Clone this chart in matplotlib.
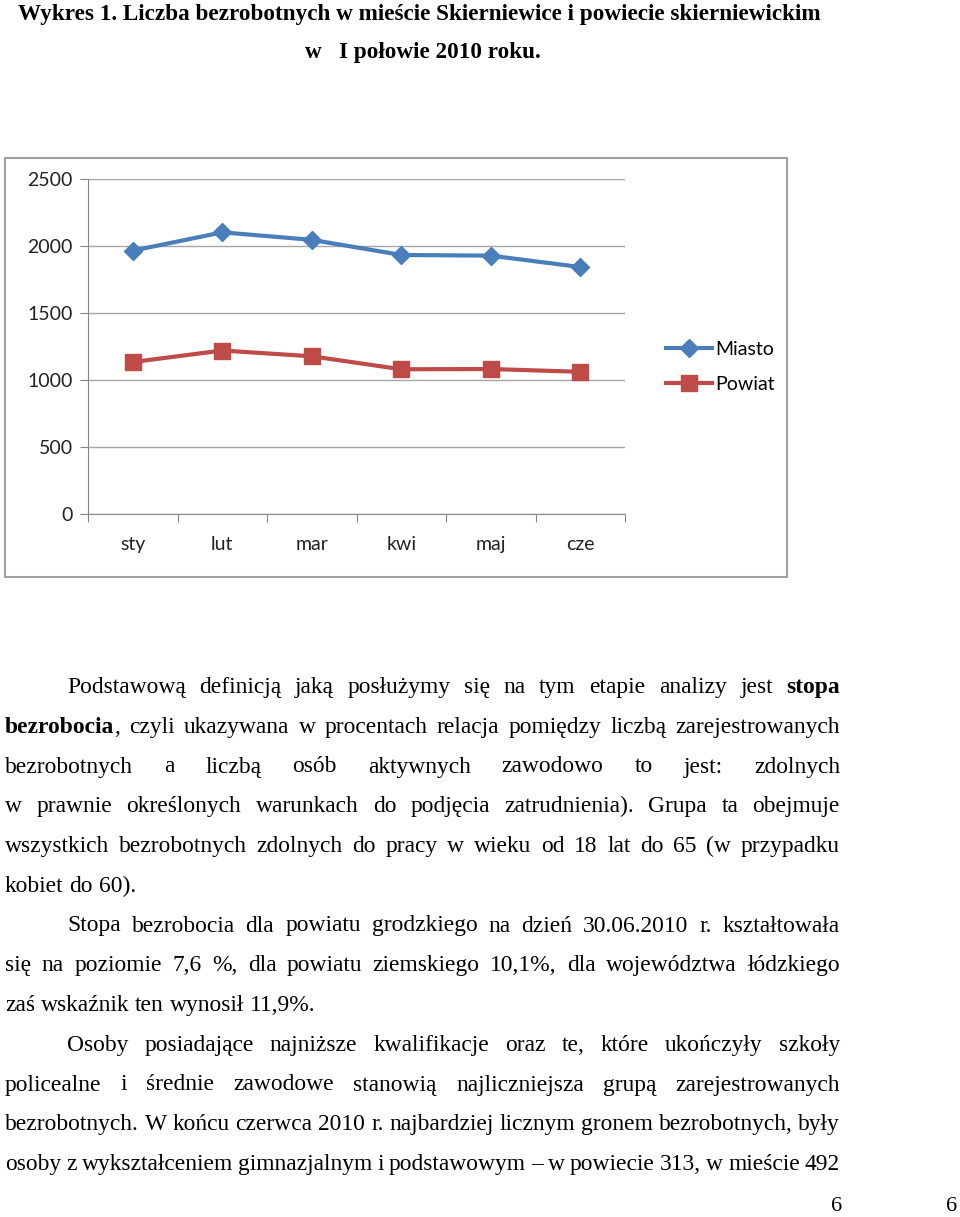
import re
import matplotlib
matplotlib.use('Agg')
import matplotlib.pyplot as plt
from matplotlib.patches import Rectangle

months = ['sty', 'lut', 'mar', 'kwi', 'maj', 'cze']
miasto = [1965, 2102, 2046, 1933, 1928, 1843]
powiat = [1134, 1220, 1177, 1080, 1082, 1061]
y_ticks = [0, 500, 1000, 1500, 2000, 2500]

title1 = 'Wykres 1. Liczba bezrobotnych w mieście Skierniewice i powiecie skierniewickim'
title2 = 'w   I połowie 2010 roku.'

# *...* = bold
lines = [
    'Podstawową definicją jaką posłużymy się na tym etapie analizy jest *stopa*',
    '*bezrobocia*, czyli ukazywana w procentach relacja pomiędzy liczbą zarejestrowanych',
    'bezrobotnych a liczbą osób aktywnych zawodowo to jest: zdolnych',
    'w prawnie określonych warunkach do podjęcia zatrudnienia). Grupa ta obejmuje',
    'wszystkich bezrobotnych zdolnych do pracy w wieku od 18 lat do 65 (w przypadku',
    'kobiet do 60).',
    'Stopa bezrobocia dla powiatu grodzkiego na dzień 30.06.2010 r. kształtowała',
    'się na poziomie 7,6 %, dla powiatu ziemskiego 10,1%, dla województwa łódzkiego',
    'zaś wskaźnik ten wynosił 11,9%.',
    'Osoby posiadające najniższe kwalifikacje oraz te, które ukończyły szkoły',
    'policealne i średnie zawodowe stanowią najliczniejsza grupą zarejestrowanych',
    'bezrobotnych. W końcu czerwca 2010 r. najbardziej licznym gronem bezrobotnych, były',
    'osoby z wykształceniem gimnazjalnym i podstawowym – w powiecie 313, w mieście 492',
]
indented = {0, 6, 9}
not_justified = {5, 8}

W, H = 960, 1217
fig = plt.figure(figsize=(W / 100, H / 100), dpi=100)
renderer = fig.canvas.get_renderer()


def fx(x):
    return x / W


def fy(y):
    return 1 - y / H


def width_of(s, size, weight='normal'):
    t = fig.text(0, 0, s, fontsize=size, family='Liberation Serif', weight=weight)
    w = t.get_window_extent(renderer).width
    t.remove()
    return w


# ---- chart ----
fig.patches.append(Rectangle((fx(5), fy(577)), fx(787) - fx(5), fy(158) - fy(577),
                             transform=fig.transFigure, fill=False,
                             edgecolor='#a0a0a0', linewidth=1.5))

ax = fig.add_axes([fx(88), fy(514), (625 - 88) / W, (514 - 179) / H])
xs = list(range(len(months)))
ax.plot(xs, miasto, color='#4a7ebb', lw=3, marker='D', ms=9, label='Miasto')
ax.plot(xs, powiat, color='#be4b48', lw=3, marker='s', ms=11, label='Powiat')
ax.set_xlim(-0.5, len(months) - 0.5)
ax.set_ylim(0, 2500)
ax.set_yticks(y_ticks)
ax.yaxis.grid(True, color='#a6a6a6', lw=1)
ax.set_axisbelow(True)
ax.set_xticks([i - 0.5 for i in range(len(months) + 1)])
ax.set_xticklabels([])
ax.set_xticks(xs, minor=True)
ax.set_xticklabels(months, minor=True)
ax.tick_params(axis='x', which='major', length=6, color='#868686')
ax.tick_params(axis='x', which='minor', length=0, pad=16)
ax.tick_params(axis='y', length=6, color='#868686', pad=5)
for lab in ax.get_xticklabels(minor=True) + ax.get_yticklabels():
    lab.set_family('Lato')
    lab.set_fontsize(14)
    lab.set_color('#222222')
for s in ['top', 'right']:
    ax.spines[s].set_visible(False)
for s in ['left', 'bottom']:
    ax.spines[s].set_color('#868686')

fig.legend(loc='center left', bbox_to_anchor=(fx(648), fy(367)), frameon=False,
           prop={'family': 'Lato', 'size': 14}, handlelength=2.4,
           handletextpad=0.15, labelspacing=0.95)

# ---- title ----
ts = 16 * 804 / width_of(title1, 16, 'bold')
fig.text(fx(18), fy(20), title1, fontsize=ts, family='Liberation Serif',
         weight='bold', va='baseline')
fig.text(fx(305), fy(58), title2, fontsize=ts, family='Liberation Serif',
         weight='bold', va='baseline')


# ---- paragraph ----
def parse(line):
    words = []
    for w in line.split(' '):
        segs = []
        for p in re.split(r'(\*[^*]+\*)', w):
            if not p:
                continue
            if p.startswith('*'):
                segs.append((p.strip('*'), 'bold'))
            else:
                segs.append((p, 'normal'))
        words.append(segs)
    return words


fs = 16 * 835 / width_of(lines[11], 16)
space = width_of('a a', fs) - width_of('aa', fs)
right = 840

for i, line in enumerate(lines):
    words = parse(line)
    widths = [[width_of(s, fs, wt) for s, wt in segs] for segs in words]
    left = 67 if i in indented else 5
    total = sum(sum(w) for w in widths)
    if i in not_justified or len(words) < 2:
        gap = space
    else:
        gap = (right - left - total) / (len(words) - 1)
    base = 693 + i * 39.75
    x = left
    for segs, ws in zip(words, widths):
        for (s, wt), w in zip(segs, ws):
            fig.text(fx(x), fy(base), s, fontsize=fs, family='Liberation Serif',
                     weight=wt, va='baseline')
            x += w
        x += gap

fig.text(fx(831), fy(1211), '6', fontsize=fs * 0.95, family='Liberation Serif', va='baseline')
fig.text(fx(946), fy(1211), '6', fontsize=fs * 0.95, family='Liberation Serif', va='baseline')

fig.savefig('out.png', dpi=100)
